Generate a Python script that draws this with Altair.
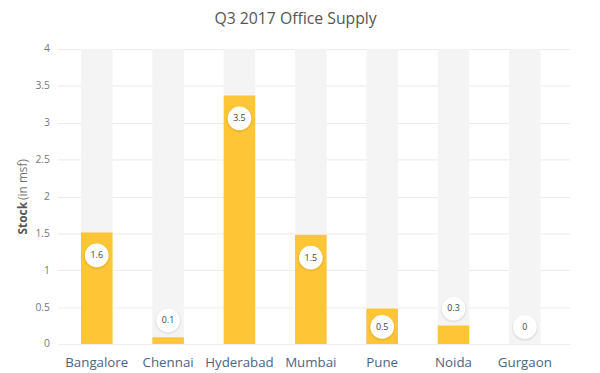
import altair as alt
import pandas as pd

cities = ["Bangalore", "Chennai", "Hyderabad", "Mumbai", "Pune", "Noida", "Gurgaon"]
stock = [1.51, 0.09, 3.37, 1.48, 0.48, 0.25, 0.0]
labels = ["1.6", "0.1", "3.5", "1.5", "0.5", "0.3", "0"]
capacity = [4, 4, 4, 4, 4, 4, 4]
y_ticks = [0, 0.5, 1, 1.5, 2, 2.5, 3, 3.5, 4]
title_text = "Q3 2017 Office Supply"
ytitle_bold = ["Stock"]
ytitle_rest = ["(in msf)"]

FONT = "Open Sans"

df = pd.DataFrame({"city": cities, "stock": stock, "label": labels, "cap": capacity})

xenc = alt.X(
    "city:N",
    sort=cities,
    scale=alt.Scale(paddingInner=0, paddingOuter=0.0877, align=0.3),
    axis=alt.Axis(
        title=None, labelAngle=0, domain=False, ticks=False, labelPadding=12,
        labelColor="#4d6483", labelFontSize=13.5, labelFont=FONT, grid=False,
    ),
)
yscale = alt.Scale(domain=[0, 4], nice=False)
yaxis = alt.Axis(
    values=y_ticks, format="~g", labelOverlap=False, title=None, domain=False,
    ticks=False, labelPadding=8, labelColor="#777777", labelFontSize=10.5,
    labelFont=FONT, gridColor="#ebebeb", gridWidth=1,
)

def yenc(field):
    return alt.Y(field, scale=yscale, axis=yaxis, title=None)

base = alt.Chart(df).encode(x=xenc)

bg = base.mark_bar(width=32, color="#f4f4f4").encode(y=yenc("cap:Q"))
bars = base.mark_bar(width=32, color="#FEC536").encode(y=yenc("stock:Q"))

lab = base.transform_calculate(
    ly="datum.stock >= 0.4 ? max(datum.stock - 0.31, 0.23) : datum.stock + 0.23"
)
shadow = lab.mark_circle(size=700, color="#000000", opacity=0.06, yOffset=1).encode(
    y=yenc("ly:Q")
)
circ = lab.mark_circle(size=576, color="#ffffff", opacity=1).encode(y=yenc("ly:Q"))
txt = lab.mark_text(fontSize=9, color="#444444", font=FONT).encode(
    y=yenc("ly:Q"), text="label:N"
)

yt1 = alt.Chart(pd.DataFrame({"t": ytitle_bold})).mark_text(
    angle=270, align="left", baseline="middle", fontWeight="bold",
    fontSize=12, color="#555555", font=FONT,
).encode(x=alt.value(-35), y=alt.value(188), text="t:N")
yt2 = alt.Chart(pd.DataFrame({"t": ytitle_rest})).mark_text(
    angle=270, align="left", baseline="middle",
    fontSize=12, color="#777777", font=FONT,
).encode(x=alt.value(-35), y=alt.value(153), text="t:N")

chart = alt.layer(bg, bars, shadow, circ, txt, yt1, yt2).properties(
    width=519,
    height=299,
    title=alt.TitleParams(
        title_text, fontSize=16, color="#555555", font=FONT, fontWeight=500,
        anchor="middle", dx=-18, offset=17,
    ),
    autosize=alt.AutoSizeParams(type="none"),
    padding={"left": 50, "top": 39, "right": 23, "bottom": 30},
).configure_view(stroke=None)

chart.save("out.html", embed_options={"renderer": "svg", "actions": False})
